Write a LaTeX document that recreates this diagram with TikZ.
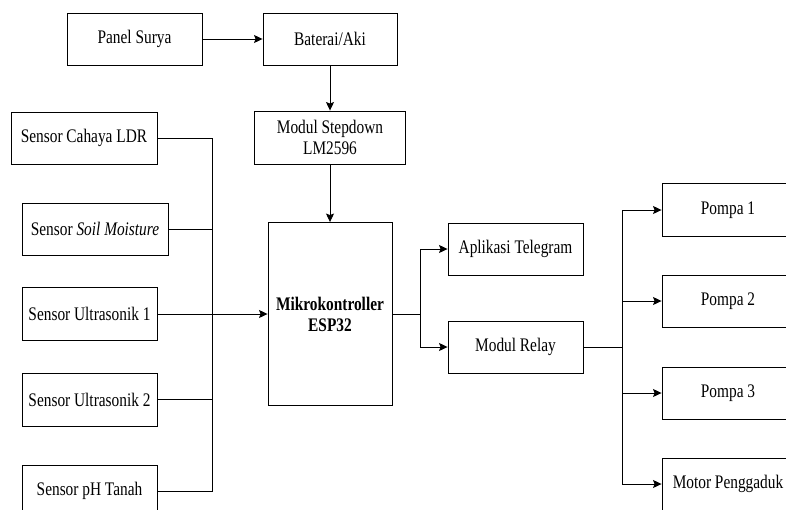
\documentclass[tikz,border=0pt]{standalone}
\usepackage{fontspec}
\setmainfont{Liberation Serif}[FakeStretch=0.8]
\usetikzlibrary{arrows.meta}
\begin{document}
\begin{tikzpicture}[x=1pt,y=-1pt,
  box/.style={draw, line width=0.9pt, inner sep=0pt, align=center, font=\fontsize{19.2}{21}\selectfont},
  conn/.style={line width=0.9pt},
  arr/.style={conn, -{Stealth[length=8.5pt,width=8pt,inset=1.5pt]}}]
\useasboundingbox (0,0) rectangle (786,509);
\fill[white] (0,0) rectangle (786,509);
\clip (0,0) rectangle (786,509);
% nodes
\node[box, minimum width=135pt, minimum height=52pt] (panel) at (134.5,39) {Panel Surya};
\node[box, minimum width=134pt, minimum height=52pt] (bat) at (330,39) {Baterai/Aki};
\node[box, minimum width=151pt, minimum height=53pt] (step) at (330,137.5) {Modul Stepdown\\LM2596};
\node[box, minimum width=146pt, minimum height=52pt] (ldr) at (84,138) {Sensor Cahaya LDR};
\node[box, minimum width=146pt, minimum height=52pt] (soil) at (95,229) {Sensor \textit{Soil Moisture}};
\node[box, minimum width=135pt, minimum height=53pt] (us1) at (89.5,314) {Sensor Ultrasonik 1};
\node[box, minimum width=135pt, minimum height=53pt] (us2) at (89.5,399.5) {Sensor Ultrasonik 2};
\node[box, minimum width=135pt, minimum height=52pt] (ph) at (89.5,491) {Sensor pH Tanah};
\node[box, minimum width=124pt, minimum height=183pt, font=\fontsize{19.2}{21}\selectfont\bfseries] (mcu) at (330,314) {Mikrokontroller\\ESP32};
\node[box, minimum width=135pt, minimum height=52pt] (tele) at (515.5,249) {Aplikasi Telegram};
\node[box, minimum width=135pt, minimum height=52pt] (relay) at (515.5,347) {Modul Relay};
\node[box, minimum width=132pt, minimum height=53pt] (p1) at (728,210) {Pompa 1};
\node[box, minimum width=132pt, minimum height=52pt] (p2) at (728,301) {Pompa 2};
\node[box, minimum width=132pt, minimum height=52pt] (p3) at (728,393) {Pompa 3};
\node[box, minimum width=132pt, minimum height=52pt] (motor) at (728,484) {Motor Penggaduk};
% junction coordinates
\coordinate (bus) at (212,314);
\coordinate (mj) at (420,314);
\coordinate (rj) at (622,347);
% connectors
\draw[arr] (panel) -- (bat);
\draw[arr] (bat) -- (step);
\draw[arr] (step) -- (mcu);
\draw[conn] (ldr.east) -| (bus);
\draw[conn] (soil.east) -| (bus);
\draw[conn] (us2.east) -| (bus);
\draw[conn] (ph.east) -| (bus);
\draw[arr] (us1.east) -- (mcu.west);
\draw[conn] (mcu.east) -- (mj);
\draw[arr] (mj) |- (tele.west);
\draw[arr] (mj) |- (relay.west);
\draw[conn] (relay.east) -- (rj);
\draw[arr] (rj) |- (p1.west);
\draw[arr] (rj) |- (p2.west);
\draw[arr] (rj) |- (p3.west);
\draw[arr] (rj) |- (motor.west);
\end{tikzpicture}
\end{document}
